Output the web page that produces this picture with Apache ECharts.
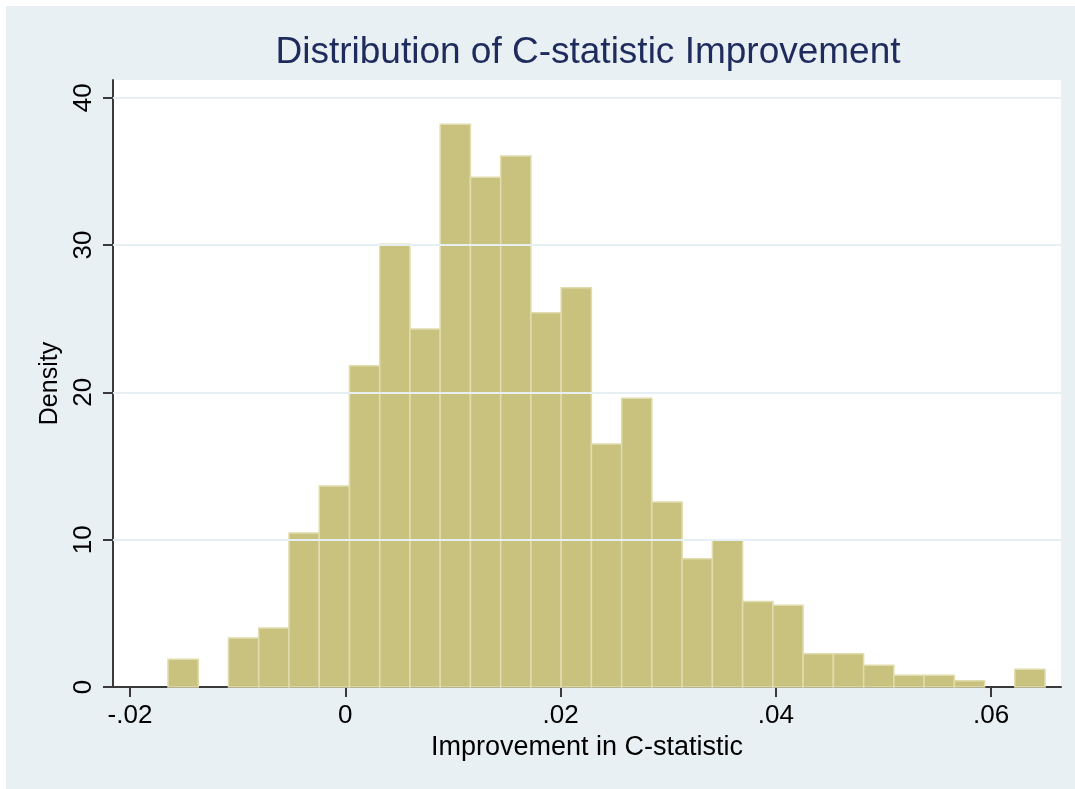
<!DOCTYPE html>
<html>
<head>
<meta charset="utf-8">
<script src="https://cdn.jsdelivr.net/npm/echarts@6/dist/echarts.min.js"></script>
<style>
  html, body { margin: 0; padding: 0; background: #ffffff; }
  #chart { width: 1075px; height: 789px; }
</style>
</head>
<body>
<div id="chart"></div>
<script>
// Histogram of C-statistic improvement (density scale)
const binStart = -0.01647;
const binWidth = 0.00281;
const densities = [
  1.88, 0, 3.33, 4.0, 10.45, 13.65, 21.8, 30.05, 24.3, 38.2,
  34.6, 36.05, 25.4, 27.1, 16.5, 19.6, 12.55, 8.7, 10.0, 5.8,
  5.55, 2.25, 2.25, 1.48, 0.8, 0.8, 0.42, 0, 1.2
];
const xTickValues = [-0.02, 0, 0.02, 0.04, 0.06];
const xTickLabels = ['-.02', '0', '.02', '.04', '.06'];
const yTickValues = [0, 10, 20, 30, 40];
const yTickLabels = ['0', '10', '20', '30', '40'];
const gridValues = [10, 20, 30, 40];

const bins = densities.map((d, i) => [binStart + i * binWidth, binStart + (i + 1) * binWidth, d]);

const chart = echarts.init(document.getElementById('chart'), null, { renderer: 'canvas' });

const FONT = 'Liberation Sans, Arial, Helvetica, sans-serif';

chart.setOption({
  animation: false,
  backgroundColor: '#ffffff',
  graphic: [{
    type: 'rect',
    z: -10,
    silent: true,
    shape: { x: 6, y: 6, width: 1075, height: 789 },
    style: { fill: '#e8f0f3' }
  }],
  title: {
    text: 'Distribution of C-statistic Improvement',
    left: 583,
    textAlign: 'center',
    top: 29,
    textStyle: { fontFamily: FONT, fontSize: 37, fontWeight: 'normal', color: '#1e2b5c' }
  },
  grid: {
    left: 113, right: 14, top: 80, bottom: 102,
    show: true, backgroundColor: '#ffffff', borderWidth: 0
  },
  xAxis: {
    type: 'value',
    min: -0.02158,
    max: 0.0665,
    name: 'Improvement in C-statistic',
    nameLocation: 'middle',
    nameGap: 45,
    nameTextStyle: { fontFamily: FONT, fontSize: 27, color: '#000000' },
    axisLine: { show: true, onZero: false, lineStyle: { color: '#3a3a3a', width: 2 } },
    axisTick: { show: true, length: 10, customValues: xTickValues, lineStyle: { color: '#3a3a3a', width: 2 } },
    axisLabel: {
      customValues: xTickValues,
      margin: 16,
      fontFamily: FONT, fontSize: 26, color: '#000000',
      formatter: v => {
        const i = xTickValues.findIndex(t => Math.abs(t - v) < 1e-9);
        return i >= 0 ? xTickLabels[i] : '';
      }
    },
    splitLine: { show: false }
  },
  yAxis: {
    type: 'value',
    min: 0,
    max: 41.2,
    name: 'Density',
    nameLocation: 'middle',
    nameGap: 42,
    nameRotate: 90,
    nameTextStyle: { fontFamily: FONT, fontSize: 25, color: '#000000' },
    axisLine: { show: true, onZero: false, lineStyle: { color: '#3a3a3a', width: 2 } },
    axisTick: { show: true, length: 10, customValues: yTickValues, lineStyle: { color: '#3a3a3a', width: 2 } },
    axisLabel: {
      customValues: yTickValues,
      rotate: 90,
      margin: 16,
      fontFamily: FONT, fontSize: 26, color: '#000000',
      formatter: v => {
        const i = yTickValues.findIndex(t => Math.abs(t - v) < 1e-9);
        return i >= 0 ? yTickLabels[i] : '';
      }
    },
    splitLine: { show: false }
  },
  series: [
    {
      // horizontal grid lines behind the bars
      type: 'line',
      data: [],
      z: 1,
      silent: true,
      markLine: {
        silent: true,
        symbol: 'none',
        label: { show: false },
        lineStyle: { color: '#e6eff1', width: 2, type: 'solid' },
        data: gridValues.map(v => ({ yAxis: v }))
      }
    },
    {
      type: 'custom',
      z: 2,
      data: bins,
      renderItem: (params, api) => {
        const x0 = api.value(0), x1 = api.value(1), h = api.value(2);
        if (h <= 0) return null;
        const p0 = api.coord([x0, 0]);
        const p1 = api.coord([x1, h]);
        return {
          type: 'rect',
          shape: { x: p0[0], y: p1[1], width: p1[0] - p0[0], height: p0[1] - p1[1] },
          style: { fill: '#c9c27f', stroke: '#e0dcae', lineWidth: 1.5 }
        };
      },
      encode: { x: [0, 1], y: 2 }
    }
  ]
});
</script>
</body>
</html>
